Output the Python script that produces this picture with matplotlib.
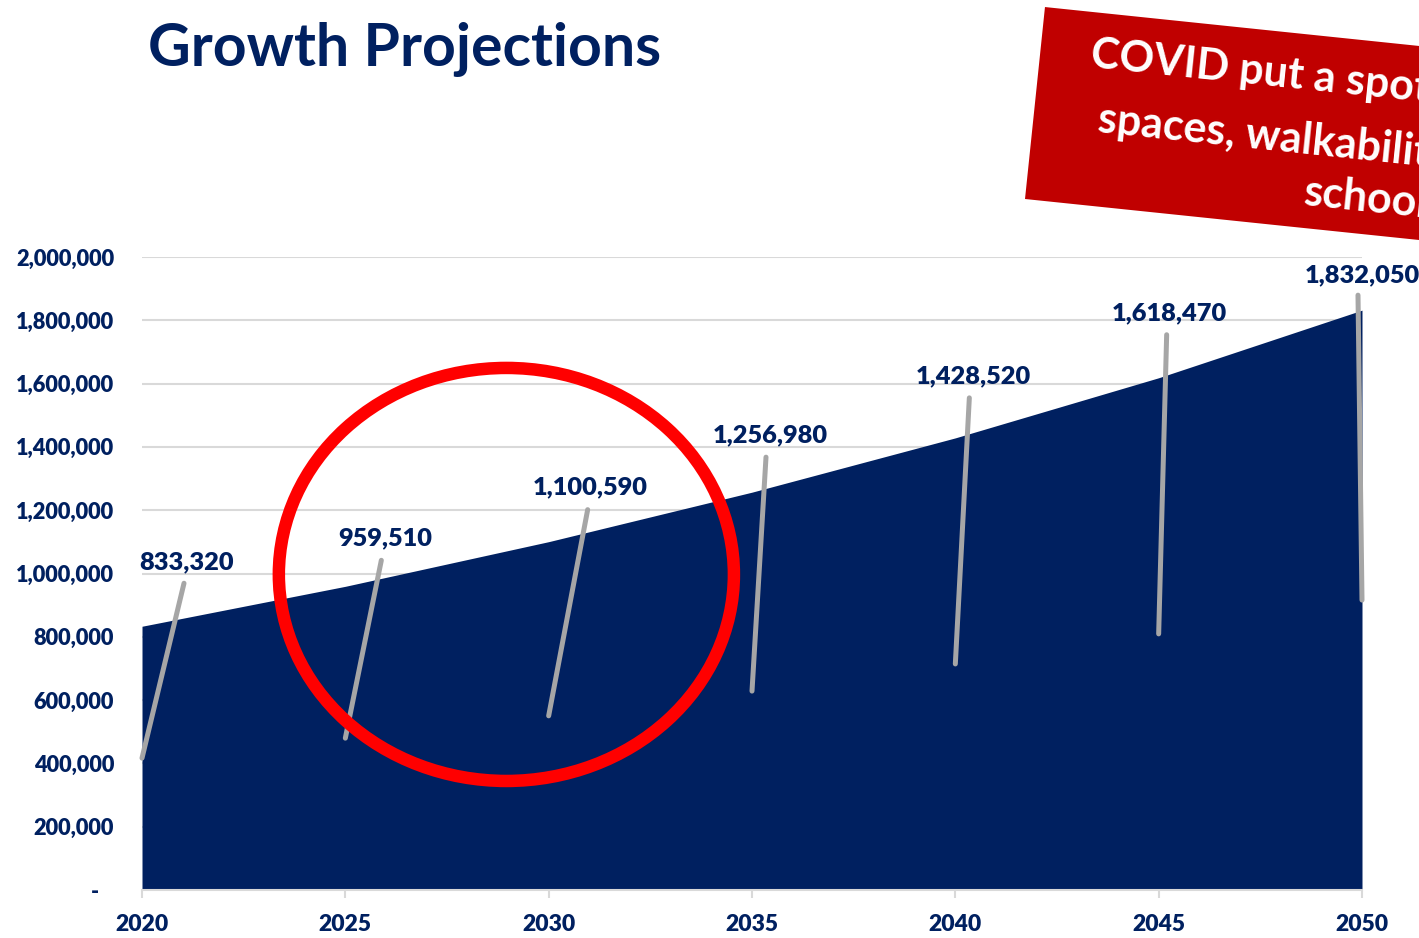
import matplotlib
matplotlib.use("Agg")
import matplotlib.pyplot as plt
from matplotlib.patches import Ellipse, Rectangle
from matplotlib.transforms import offset_copy
from matplotlib.ticker import FuncFormatter, MultipleLocator

# Population projection data
years = [2020, 2025, 2030, 2035, 2040, 2045, 2050]
population = [833320, 959510, 1100590, 1256980, 1428520, 1618470, 1832050]

title = "Growth Projections"
callout_lines = ["COVID put a spotlight on open", "spaces, walkability, and", "schools"]

NAVY = "#002060"
GRID = "#D9D9D9"
LEADER = "#A6A6A6"
FONT = ["Lato", "DejaVu Sans"]
WEIGHT = "heavy"

plt.rcParams["font.family"] = FONT

fig = plt.figure(figsize=(14.19, 9.38), dpi=100)
ax = fig.add_axes([142 / 1419, 48 / 938, 1220 / 1419, 633 / 938])

ax.fill_between(years, population, 0, color=NAVY, linewidth=0, zorder=2)

ax.set_xlim(2020, 2050)
ax.set_ylim(0, 2_000_000)
ax.set_xticks(years)
ax.yaxis.set_major_locator(MultipleLocator(200_000))
ax.yaxis.set_major_formatter(
    FuncFormatter(lambda v, _: "-   " if v == 0 else f"{int(v):,}"))
ax.grid(axis="y", color=GRID, linewidth=1.5)
ax.set_axisbelow(True)

for side in ("top", "right", "left"):
    ax.spines[side].set_visible(False)
ax.spines["bottom"].set_color(GRID)
ax.spines["bottom"].set_linewidth(1.5)
ax.spines["bottom"].set_zorder(3)
ax.tick_params(axis="x", length=6, width=1.5, color=GRID, pad=11,
               labelsize=16.5, labelcolor=NAVY)
ax.tick_params(axis="y", length=0, pad=20, labelsize=15.7, labelcolor=NAVY)
for lab in ax.get_xticklabels() + ax.get_yticklabels():
    lab.set_fontweight(WEIGHT)

# Data labels with leader lines running down to half the value
label_offsets = [(45, 64), (40, 48), (42, 54), (18, 57), (18, 62), (11, 64), (0, 35)]
leader_offsets = [(42, 43), (36, 26), (39, 32), (14, 35), (14, 40), (8, 43), (-4, 15)]
for yr, val, (lx, ly), (tx, ty) in zip(years, population, label_offsets, leader_offsets):
    ax.annotate("", xy=(yr, val / 2), xytext=(yr, val),
                textcoords=offset_copy(ax.transData, fig=fig, x=tx, y=ty, units="dots"),
                arrowprops=dict(arrowstyle="-", color=LEADER, lw=3.6,
                                shrinkA=0, shrinkB=0),
                zorder=4, annotation_clip=False)
    ax.annotate(f"{val:,}", xy=(yr, val), xytext=(lx, ly),
                textcoords="offset pixels", ha="center", va="center",
                fontsize=18.3, fontweight=WEIGHT, color=NAVY,
                zorder=5, annotation_clip=False)

# Highlight ring around the 2025-2030 stretch
ring = Ellipse((2028.96, 997_000), width=11.19, height=1_305_000,
               fill=False, edgecolor="#FF0000", linewidth=9, zorder=6,
               clip_on=False)
ax.add_patch(ring)

# Title
fig.text(148 / 1419, 1 - 66 / 938, title, fontsize=42.5, fontweight="bold",
         color=NAVY, ha="left", va="baseline")

# Tilted red callout box (display/pixel coordinates)
box = Rectangle((1025, 938 - 199), 700, 193, angle=-5.94,
                facecolor="#C00000", edgecolor="none", transform=None,
                zorder=10)
fig.add_artist(box)
callout_starts = [(1090, 67), (1097, 132), (1303, 205)]
for txt, (px, py) in zip(callout_lines, callout_starts):
    fig.text(px / 1419, 1 - py / 938, txt, fontsize=31, fontweight="bold",
             color="white", ha="left", va="baseline", rotation=-5.94,
             rotation_mode="anchor", zorder=11)

fig.savefig("out.png", dpi=100)
